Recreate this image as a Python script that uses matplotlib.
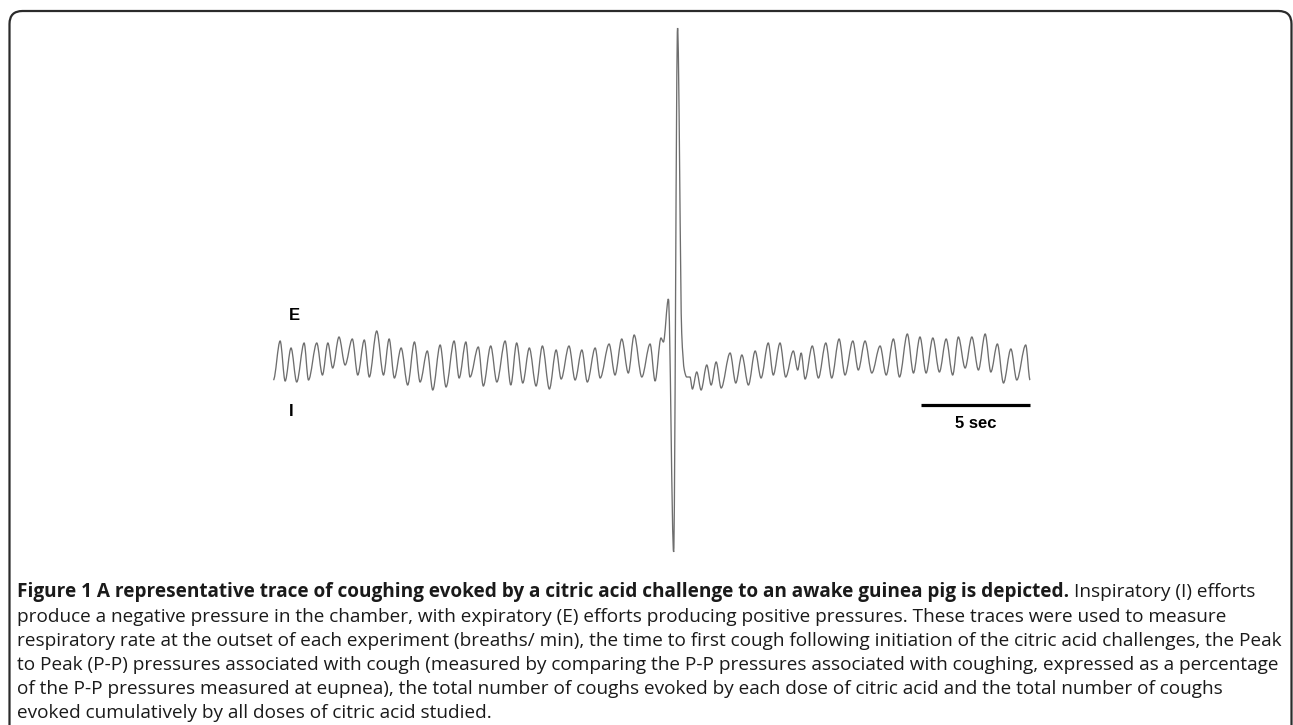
import numpy as np
import matplotlib.pyplot as plt
from matplotlib.path import Path
from matplotlib.patches import PathPatch, FancyBboxPatch

# Turning points of the chamber pressure trace.
# time in seconds from start of trace, pressure in arbitrary units (E up, I down)
time_s = [
    0.06, 0.37, 0.60, 0.87, 1.13, 1.47, 1.67, 2.05, 2.31, 2.56, 2.78, 3.07, 3.35,
    3.68, 3.93, 4.23, 4.46, 4.80, 5.11, 5.37, 5.61, 5.92, 6.22, 6.53, 6.79, 7.12,
    7.37, 7.71, 7.98, 8.35, 8.58, 8.89, 9.08, 9.46, 9.69, 10.03, 10.31, 10.69,
    10.95, 11.22, 11.50, 11.80, 12.11, 12.40, 12.72, 13.03, 13.26, 13.62, 13.90,
    14.21, 14.46, 14.82, 15.05, 15.46, 15.73, 16.04, 16.34, 16.61, 16.96, 17.34,
    17.57, 17.84, 17.95, 18.18,
    18.42, 18.60, 18.79, 18.91, 19.02, 19.17,
    19.28, 19.48, 19.68, 19.94, 20.14, 20.37, 20.60, 21.01, 21.27, 21.55, 21.85,
    22.16, 22.43, 22.76, 22.99, 23.30, 23.56, 23.91, 24.11, 24.27, 24.45, 24.78,
    25.06, 25.40, 25.67, 26.01, 26.28, 26.64, 26.89, 27.20, 27.51, 27.89, 28.17,
    28.50, 28.78, 29.14, 29.42, 29.72, 30.00, 30.31, 30.61, 30.92, 31.22, 31.48,
    31.79, 32.10, 32.40, 32.71, 32.97, 33.27, 33.55, 33.89, 34.16, 34.57, 34.77,
]
pressure = [
    -1.5, 2.4, -1.6, 1.7, -1.7, 2.2, -1.5, 2.2, -1.0, 2.2, -0.3, 2.8, 0.0,
    2.6, -1.0, 2.5, -1.2, 3.4, -1.0, 2.6, -1.3, 1.7, -2.0, 2.3, -1.7, 1.4,
    -2.5, 2.0, -2.2, 2.4, -1.3, 2.3, -1.2, 1.8, -2.1, 1.9, -1.7, 2.4,
    -2.0, 2.2, -1.8, 1.7, -2.1, 1.9, -2.4, 1.5, -1.4, 1.9, -1.5,
    1.5, -1.7, 1.7, -1.3, 2.1, -1.0, 2.6, -0.8, 3.0, -1.2, 2.1,
    -1.6, 2.7, 2.3, 6.6,
    -18.7, 33.7, 3.2, -0.5, -1.2, -1.2,
    -2.4, -0.7, -2.5, 0.0, -2.0, 0.3, -2.3, 1.2, -1.8, 1.0, -2.0,
    1.4, -1.3, 2.2, -1.0, 2.2, -1.2, 1.4, -0.5, 1.2, -1.4, 1.9,
    -1.3, 2.2, -1.3, 2.6, -1.0, 2.4, -0.5, 2.4, -0.8, 1.9, -1.0,
    2.6, -1.2, 3.1, -0.8, 2.8, -0.8, 2.7, -0.7, 2.6, -1.0, 2.8,
    -0.3, 2.8, -0.5, 3.1, -0.7, 2.1, -1.8, 1.6, -1.5, 2.0, -1.5,
]

scale_bar_s = 5
scale_label = "5 sec"
label_E = "E"
label_I = "I"

caption_bold = ("Figure 1 A representative trace of coughing evoked by a citric "
                "acid challenge to an awake guinea pig is depicted.")
caption_first = "Inspiratory (I) efforts"
caption_lines = [
    "produce a negative pressure in the chamber, with expiratory (E) efforts producing positive pressures. These traces were used to measure",
    "respiratory rate at the outset of each experiment (breaths/ min), the time to first cough following initiation of the citric acid challenges, the Peak",
    "to Peak (P-P) pressures associated with cough (measured by comparing the P-P pressures associated with coughing, expressed as a percentage",
    "of the P-P pressures measured at eupnea), the total number of coughs evoked by each dose of citric acid and the total number of coughs",
    "evoked cumulatively by all doses of citric acid studied.",
]


def smooth_path(x, y):
    # cubic Bezier through the turning points, flat at peaks and troughs
    x = np.asarray(x, float)
    y = np.asarray(y, float)
    sec = np.diff(y) / np.diff(x)
    m = np.zeros_like(y)
    for i in range(1, len(y) - 1):
        if sec[i - 1] * sec[i] > 0:
            m[i] = 2 / (1 / sec[i - 1] + 1 / sec[i])
    verts = [(x[0], y[0])]
    codes = [Path.MOVETO]
    for i in range(len(x) - 1):
        dx = x[i + 1] - x[i]
        verts += [(x[i] + dx / 3, y[i] + m[i] * dx / 3),
                  (x[i + 1] - dx / 3, y[i + 1] - m[i + 1] * dx / 3),
                  (x[i + 1], y[i + 1])]
        codes += [Path.CURVE4] * 3
    return Path(verts, codes)


W, H = 1293, 725
fig = plt.figure(figsize=(W / 100, H / 100), dpi=100)
ax = fig.add_axes([0, 0, 1, 1])
ax.set_xlim(-12.48, 46.83)
ax.set_ylim(-36.0, 36.5)
ax.axis("off")

ax.add_patch(PathPatch(smooth_path(time_s, pressure), facecolor="none",
                       edgecolor="#6e6e6e", lw=0.95))

t_end = time_s[-1]
ax.plot([t_end - scale_bar_s, t_end], [-4.0, -4.0], color="black", lw=2.3,
        solid_capstyle="butt")
ax.text(t_end - scale_bar_s / 2, -5.9, scale_label, ha="center", va="center",
        fontsize=12, fontweight="bold", family="Liberation Sans")
ax.text(0.78, 4.95, label_E, ha="left", va="center", fontsize=12,
        fontweight="bold", family="Liberation Sans")
ax.text(0.78, -4.65, label_I, ha="left", va="center", fontsize=12,
        fontweight="bold", family="Liberation Sans")

# rounded frame, bottom edge runs off the page
frame = FancyBboxPatch((0.095, -0.5), 12.82, 7.64,
                       boxstyle="round,pad=0,rounding_size=0.13",
                       transform=fig.dpi_scale_trans, facecolor="none",
                       edgecolor="#2b2b2b", lw=1.6, clip_on=False)
fig.patches.append(frame)

# caption: size chosen so the longest line spans the same width as the original
cap_font = "Open Sans"
renderer = fig.canvas.get_renderer()
probe = fig.text(0, 0, caption_lines[1], fontsize=12, family=cap_font)
cap_size = 12 * (1277 - 17) / probe.get_window_extent(renderer).width
probe.remove()

line_y = [592, 617, 641, 665, 689, 713]
x0 = 17 / W
t_bold = fig.text(x0, 1 - line_y[0] / H, caption_bold, fontsize=cap_size,
                  fontweight="bold", family=cap_font, color="#1a1a1a", va="center")
bb = t_bold.get_window_extent(renderer)
fig.text((bb.x1 + 5) / W, 1 - line_y[0] / H, caption_first,
         fontsize=cap_size, family=cap_font, color="#1a1a1a", va="center")
for line, yy in zip(caption_lines, line_y[1:]):
    fig.text(x0, 1 - yy / H, line, fontsize=cap_size, family=cap_font,
             color="#1a1a1a", va="center")

fig.savefig("out.png", dpi=100)
